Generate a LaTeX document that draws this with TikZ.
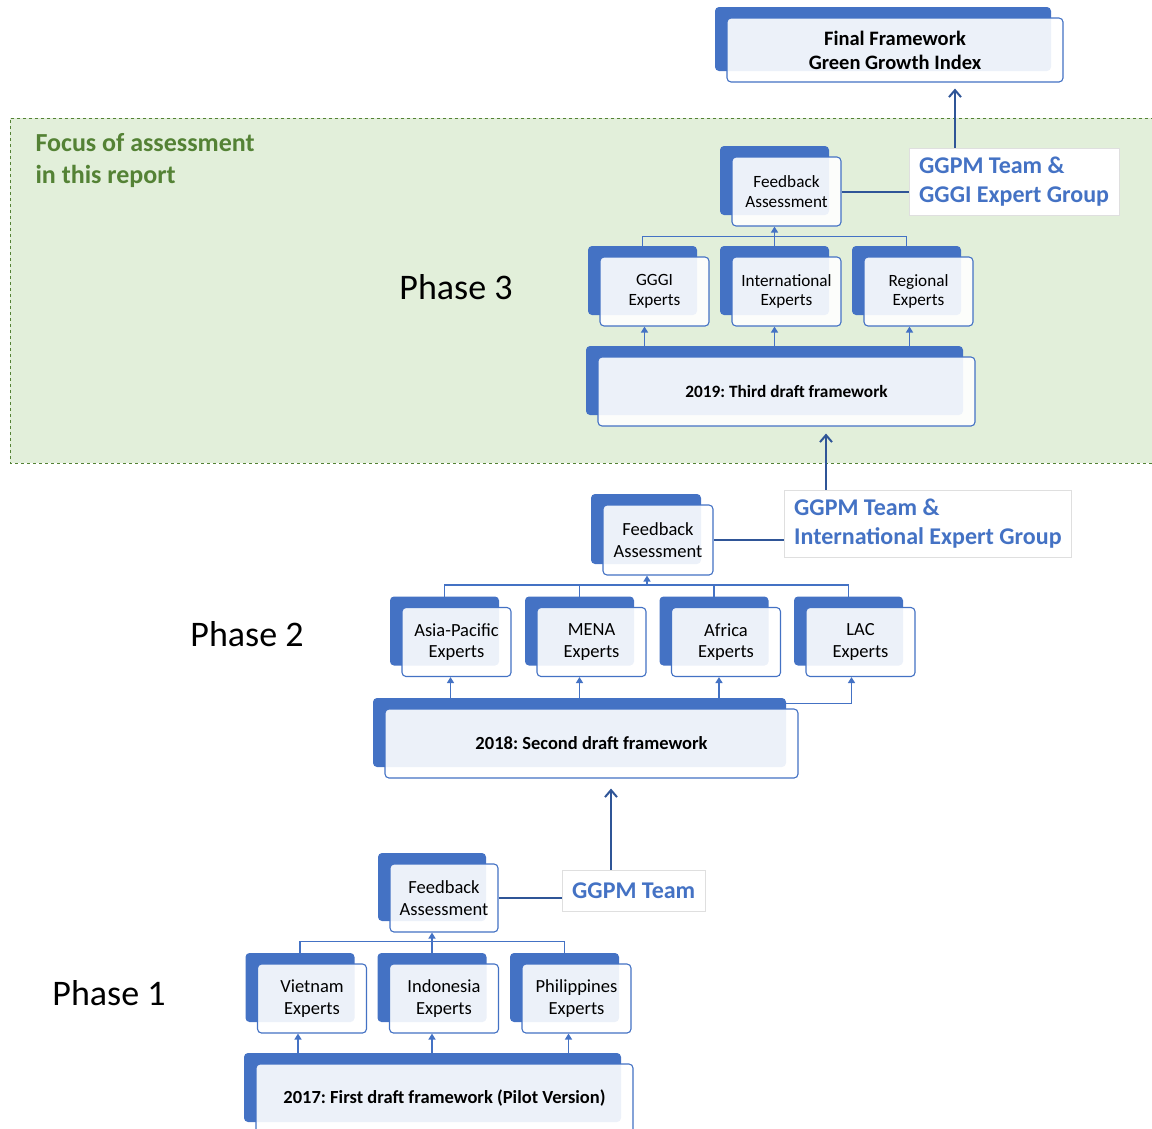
\documentclass[tikz,border=0pt]{standalone}
\usepackage{fontspec}
\setmainfont{Carlito}
\usetikzlibrary{arrows.meta,shadows,backgrounds}
\definecolor{boxblue}{HTML}{4472C4}
\definecolor{linkblue}{HTML}{2F5597}
\definecolor{focusgreen}{HTML}{548235}
\definecolor{focusfill}{HTML}{E2EFDA}
\frenchspacing
\begin{document}
\begin{tikzpicture}[
  x=1pt,y=-1pt,
  box/.style={rounded corners=4pt,draw=boxblue,line width=1.1pt,fill=white,fill opacity=0.9,text opacity=1,align=center,inner sep=0pt,
    general shadow={fill=boxblue,fill opacity=1,draw=none,shadow xshift=-12pt,shadow yshift=11pt}},
  expert/.style={box,minimum width=109pt,minimum height=69pt,font=\fontsize{18.5}{21.5}\selectfont},
  expertsm/.style={expert,font=\fontsize{17.2}{19.5}\selectfont},
  draft/.style={box,minimum height=69pt,font=\fontsize{18.5}{22}\selectfont\bfseries},
  team/.style={draw=gray!25,fill=white,align=left,inner xsep=10pt,inner ysep=0pt,anchor=west,text=boxblue,font=\fontsize{24}{29}\selectfont\bfseries},
  phase/.style={font=\fontsize{36}{40}\selectfont},
  bus/.style={draw=boxblue,line width=1.5pt},
  tip/.style={bus,-{Triangle[length=6pt,width=7pt]}},
  link/.style={draw=linkblue,line width=2pt},
  stepup/.style={link,-{Straight Barb[length=7pt,width=12pt]}},
]
\useasboundingbox (0,0) rectangle (1152,1128);

\node[box,minimum width=336pt,minimum height=64pt,font=\fontsize{20.5}{24}\selectfont\bfseries] (final) at (895,50) {Final Framework\\Green Growth Index};

\node[align=left,anchor=west,text=focusgreen,font=\fontsize{26}{32}\selectfont\bfseries] (focus) at (32,161) {Focus of assessment\\in this report};
\node[phase] (phase3) at (456,287) {Phase 3};
\node[phase] (phase2) at (247,634) {Phase 2};
\node[phase] (phase1) at (109,993) {Phase 1};

\node[expertsm] (fb3) at (786.5,191.5) {Feedback\\Assessment};
\node[expertsm] (gggi) at (654.5,291.5) {GGGI\\Experts};
\node[expertsm] (intl) at (786.5,291.5) {International\\Experts};
\node[expertsm] (regional) at (918.5,291.5) {Regional\\Experts};
\node[draft,minimum width=377pt,font=\fontsize{17.3}{20}\selectfont\bfseries] (draft3) at (786.5,391.5) {2019: Third draft framework};
\node[team,minimum height=67pt] (label3) at (909,181.5) {GGPM Team \&\\GGGI Expert Group};

\node[expert,minimum width=110pt,minimum height=70pt] (fb2) at (658,540) {Feedback\\Assessment};
\node[expert] (asia) at (456.5,642) {Asia-Pacific\\Experts};
\node[expert] (mena) at (591.5,642) {MENA\\Experts};
\node[expert] (africa) at (726,642) {Africa\\Experts};
\node[expert] (lac) at (860.5,642) {LAC\\Experts};
\node[draft,minimum width=413pt] (draft2) at (591.5,743.5) {2018: Second draft framework};
\node[team,minimum height=67pt] (label2) at (784,523.5) {GGPM Team \&\\International Expert Group};

\node[expert,minimum width=108pt,minimum height=68pt] (fb1) at (444,898) {Feedback\\Assessment};
\node[expert] (vietnam) at (312,998.5) {Vietnam\\Experts};
\node[expert] (indonesia) at (444,998.5) {Indonesia\\Experts};
\node[expert] (philippines) at (576.5,998.5) {Philippines\\Experts};
\node[draft,minimum width=377pt] (draft1) at (444.5,1098.5) {2017: First draft framework (Pilot Version)};
\node[team,minimum height=41pt] (label1) at (562,890.5) {GGPM Team};

\begin{scope}[on background layer]
  \fill[focusfill] (10,118) rectangle (1160,463);
  \draw[focusgreen,line width=1pt,dashed] (1160,118) -- (10,118) -- (10,463) -- (1160,463);

  \draw[bus] ([xshift=-12pt]gggi.north) -- ([xshift=-12pt,yshift=20pt]gggi.north) -| ([xshift=-12pt]regional.north);
  \draw[tip] ([xshift=-12pt]intl.north) -- ([xshift=-12pt]fb3.south);
  \foreach \n/\d in {gggi/-10,intl/-12,regional/-9}
    \draw[tip] ([xshift=\d pt,yshift=-25pt]\n.south) -- ([xshift=\d pt]\n.south);
  \draw[link] (fb3.east) -- (fb3.east -| label3.west);
  \draw[stepup] ([xshift=46pt]label3.north west) -- ([xshift=60pt,yshift=-6pt]final.south);

  \draw[bus] ([xshift=-12pt]asia.north) -- ([xshift=-12pt,yshift=22pt]asia.north) -| ([xshift=-12pt]lac.north);
  \foreach \n in {mena,africa}
    \draw[bus] ([xshift=-12pt]\n.north) -- ([xshift=-12pt,yshift=22pt]\n.north);
  \draw[tip] ([xshift=-11pt,yshift=-10pt]fb2.south) -- ([xshift=-11pt]fb2.south);
  \foreach \n/\d in {asia/-6,mena/-12,africa/-7}
    \draw[tip] ([xshift=\d pt,yshift=-25pt]\n.south) -- ([xshift=\d pt]\n.south);
  \draw[tip] ([xshift=-20pt,yshift=5pt]draft2.north east) -| ([xshift=-9pt]lac.south);
  \draw[link] (fb2.east) -- (fb2.east -| label2.west);
  \draw[stepup] ([xshift=42pt]label2.north west) -- ([xshift=39.5pt,yshift=-7pt]draft3.south);

  \draw[bus] ([xshift=-12pt]vietnam.north) -- ([xshift=-12pt,yshift=22pt]vietnam.north) -| ([xshift=-12pt]philippines.north);
  \draw[tip] ([xshift=-12pt]indonesia.north) -- ([xshift=-12pt]fb1.south);
  \foreach \n/\d in {vietnam/-14,indonesia/-12,philippines/-8}
    \draw[tip] ([xshift=\d pt,yshift=-25pt]\n.south) -- ([xshift=\d pt]\n.south);
  \draw[link] (fb1.east) -- (fb1.east -| label1.west);
  \draw[stepup] ([xshift=49pt]label1.north west) -- ([xshift=19.5pt,yshift=-10pt]draft2.south);
\end{scope}

\end{tikzpicture}
\end{document}
